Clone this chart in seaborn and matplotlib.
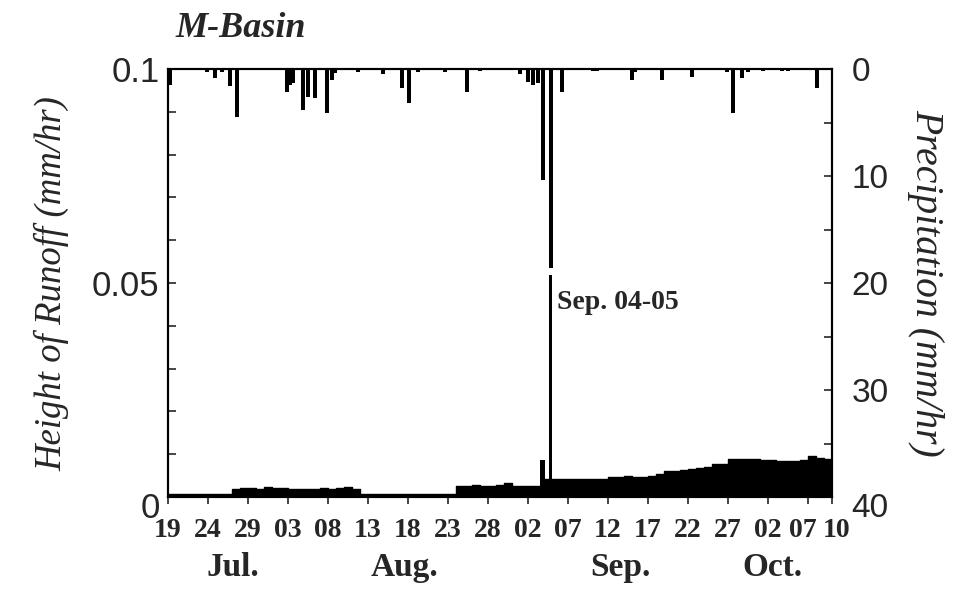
import matplotlib
matplotlib.use("Agg")
import numpy as np
import pandas as pd
import matplotlib.pyplot as plt
import matplotlib.transforms as mtransforms
import seaborn as sns

# -------------------------------
# Data
# -------------------------------

start = pd.Timestamp("2003-07-19")

# daily runoff height (mm/hr), Jul 19 .. Oct 09
runoff_daily = [
    0.0008, 0.0008, 0.0008, 0.0008, 0.0008, 0.0008, 0.0008, 0.0008,
    0.0019, 0.0020, 0.0022, 0.0019, 0.0023, 0.0021, 0.0020, 0.0019,
    0.0018, 0.0019, 0.0019, 0.0020, 0.0019, 0.0020, 0.0024, 0.0019,
    0.0007, 0.0007, 0.0007, 0.0007, 0.0007, 0.0007, 0.0007, 0.0007,
    0.0007, 0.0007, 0.0007, 0.0007,
    0.0026, 0.0026, 0.0027, 0.0026, 0.0026, 0.0027, 0.0033, 0.0026,
    0.0026, 0.0025, 0.0026, 0.0042,
    0.0042, 0.0042, 0.0042, 0.0042, 0.0043, 0.0042, 0.0043,
    0.0047, 0.0047, 0.0048, 0.0047, 0.0047, 0.0048,
    0.0054, 0.0061, 0.0061, 0.0062, 0.0066, 0.0067, 0.0070, 0.0077,
    0.0077, 0.0089, 0.0090, 0.0088, 0.0089, 0.0087, 0.0086, 0.0085,
    0.0085, 0.0085, 0.0086, 0.0096, 0.0092, 0.0089,
]

# Sep 04-05 storm peaks (days after Jul 19, mm/hr)
storm_day = [46.5, 47.6]
storm_runoff = [0.0087, 0.052]

# precipitation bars (days after Jul 19, mm/hr)
precip_day = [
    0.25, 4.9, 5.9, 6.75, 7.75, 8.6, 14.9, 15.25, 15.6, 16.9, 17.5, 18.4,
    19.9, 20.5, 20.9, 23.75, 26.9, 29.25, 30.1, 31.25, 34.6, 37.4, 39.0,
    44.0, 45.0, 45.6, 46.25, 46.9, 47.9, 49.25, 53.1, 53.6, 58.0, 58.4,
    61.75, 65.5, 69.9, 70.6, 71.75, 72.5, 74.4, 76.75, 77.5, 81.1,
]
precip_mm = [
    1.5, 0.3, 0.8, 0.3, 1.6, 4.5, 2.1, 1.5, 1.3, 3.8, 2.6, 2.7,
    4.1, 1.0, 0.4, 0.3, 0.5, 1.8, 3.2, 0.3, 0.3, 2.1, 0.2,
    0.5, 1.2, 1.5, 1.3, 10.4, 18.6, 2.1, 0.2, 0.2, 1.0, 0.3,
    1.0, 0.7, 0.3, 4.1, 0.8, 0.3, 0.2, 0.2, 0.2, 1.8,
]

tick_days = [0, 5, 10, 15, 20, 25, 30, 35, 40, 45, 50, 55, 60, 65, 70, 75, 80, 83]
month_names = ["Jul.", "Aug.", "Sep.", "Oct."]
month_pos = [8.1, 29.6, 56.5, 75.6]

# -------------------------------
# Plot
# -------------------------------

sns.set_style("ticks")
plt.rcParams["font.family"] = ["Liberation Serif", "DejaVu Serif"]

def to_date(days):
    return start + pd.to_timedelta(np.asarray(days, dtype=float), unit="D")

def shift(label, fig, dx, dy):
    off = mtransforms.ScaledTranslation(dx / 72, dy / 72, fig.dpi_scale_trans)
    label.set_transform(label.get_transform() + off)

fig = plt.figure(figsize=(9.67, 6.01), dpi=100)
ax = fig.add_axes([0.1737, 0.173, 0.6867, 0.712])

# runoff as filled steps
n = len(runoff_daily)
t = to_date(np.arange(n + 1))
r = np.append(runoff_daily, runoff_daily[-1])
ax.fill_between(t, 0, r, step="post", color="black", lw=0)
sns.lineplot(x=t, y=r, drawstyle="steps-post", color="black", lw=1, ax=ax)
ax.bar(to_date(storm_day), storm_runoff, width=[0.6, 0.4], align="edge",
       color="black", lw=0)

ax.set_xlim(to_date([0])[0], to_date([83])[0])
ax.set_ylim(0, 0.1)
ax.set_yticks([0, 0.05, 0.1])
ax.set_yticklabels(["0", "0.05", "0.1"], family="Liberation Sans", fontsize=25)
ax.set_yticks(np.arange(0, 0.1001, 0.01), minor=True)
ax.tick_params(axis="y", which="both", direction="in", length=6, width=1.2, pad=6)

tick_dates = to_date(tick_days)
ax.set_xticks(tick_dates)
ax.set_xticklabels([d.strftime("%d") for d in tick_dates],
                   fontsize=20, fontweight="bold")
ax.tick_params(axis="x", direction="out", length=5, width=1.2, pad=10)
ax.set_xlabel("")
ax.set_ylabel("Height of Runoff (mm/hr)", fontsize=26.5, style="italic", labelpad=16)

xlabels = ax.get_xticklabels()
shift(xlabels[-2], fig, -4, 0)
shift(xlabels[-1], fig, 3, 0)
shift(ax.get_yticklabels()[0], fig, 0, -6)

for name, d in zip(month_names, month_pos):
    ax.text(to_date([d])[0], -0.165, name, transform=ax.get_xaxis_transform(),
            ha="center", va="center", fontsize=24, fontweight="bold")

ax.text(to_date([48.6])[0], 0.0455, "Sep. 04-05", fontsize=20,
        fontweight="bold", ha="left", va="center")

# precipitation hanging from the top
ax2 = ax.twinx()
ax2.bar(to_date(precip_day), precip_mm, width=0.5, color="black", lw=0)
ax2.set_ylim(40, 0)
ax2.set_yticks([0, 10, 20, 30, 40])
ax2.set_yticklabels(["0", "10", "20", "30", "40"], family="Liberation Sans", fontsize=24)
ax2.set_yticks(np.arange(0, 41, 5), minor=True)
ax2.tick_params(axis="y", which="both", direction="in", length=6, width=1.2, pad=14)
ax2.set_ylabel("Precipitation (mm/hr)", fontsize=28.5, style="italic",
               rotation=270, labelpad=40)
ax2.set_xlim(ax.get_xlim())
shift(ax2.get_yticklabels()[-1], fig, 0, -6)

for a in (ax, ax2):
    for s in a.spines.values():
        s.set_linewidth(1.5)
        s.set_color("black")

fig.text(0.181, 0.953, "M-Basin", fontsize=26, fontweight="bold",
         style="italic", ha="left", va="center")

fig.savefig("out.png", dpi=100)
